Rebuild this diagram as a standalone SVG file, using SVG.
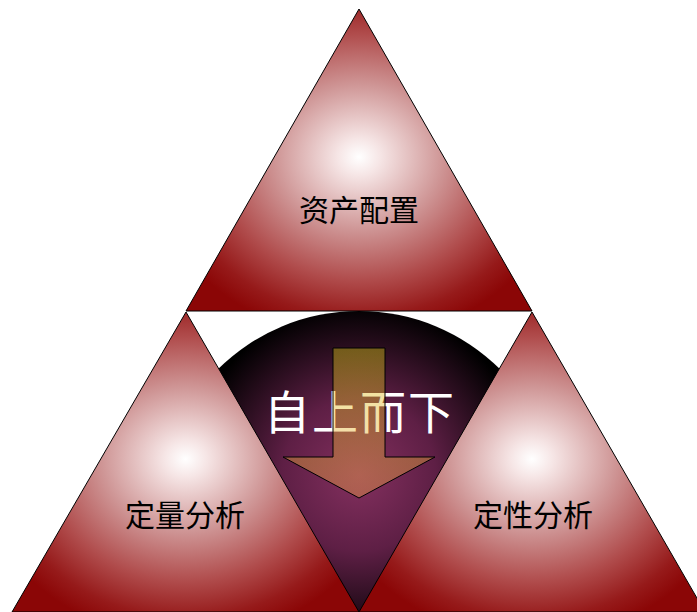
<svg xmlns="http://www.w3.org/2000/svg" width="697" height="612" viewBox="0 0 697 612">
<defs>
<style>
.tri{stroke:#000;stroke-width:1}
.lbl{font-family:"Noto Sans CJK SC","Noto Sans CJK JP",sans-serif;font-size:30px;font-weight:400;fill:#000;text-anchor:middle}
.big{font-family:"Noto Sans CJK SC","Noto Sans CJK JP",sans-serif;font-size:46px;fill:#fff;text-anchor:middle;letter-spacing:2px}
</style>
<radialGradient id="gTri" gradientUnits="objectBoundingBox" cx="0.5" cy="0.49" r="0.6" fx="0.5" fy="0.49">
<stop offset="0" stop-color="#ffffff"/>
<stop offset="0.1" stop-color="#f6e6e6"/>
<stop offset="0.4" stop-color="#cf9696"/>
<stop offset="0.68" stop-color="#b04c4c"/>
<stop offset="0.88" stop-color="#961a1a"/>
<stop offset="1" stop-color="#8b0606"/>
</radialGradient>
<radialGradient id="gBall" gradientUnits="userSpaceOnUse" cx="359" cy="475" r="170">
<stop offset="0" stop-color="#84305f"/>
<stop offset="0.45" stop-color="#5e1f45"/>
<stop offset="1" stop-color="#000000"/>
</radialGradient>
<linearGradient id="gArrow" x1="0" y1="348" x2="0" y2="498" gradientUnits="userSpaceOnUse">
<stop offset="0" stop-color="#d8c814"/>
<stop offset="1" stop-color="#f0a048"/>
</linearGradient>
</defs>
<rect width="697" height="612" fill="#fff"/>
<g id="center">
<circle cx="359" cy="511" r="200" fill="url(#gBall)"/>
<text class="big" x="360" y="429">自上而下</text>
<polygon points="333,348 385,348 385,457 435,457 359,498 283,457 333,457" fill="url(#gArrow)" fill-opacity="0.42" stroke="#000" stroke-width="1"/>
</g>
<g id="top">
<polygon class="tri" points="359,9 186,311 532,311" fill="url(#gTri)"/>
<text class="lbl" x="359" y="221">资产配置</text>
</g>
<g id="left">
<polygon class="tri" points="186,312 12,612 359,612" fill="url(#gTri)"/>
<text class="lbl" x="185" y="526">定量分析</text>
</g>
<g id="right">
<polygon class="tri" points="532,312 359,612 705,612" fill="url(#gTri)"/>
<text class="lbl" x="533" y="526">定性分析</text>
</g>
<g id="connectors"></g>
</svg>
